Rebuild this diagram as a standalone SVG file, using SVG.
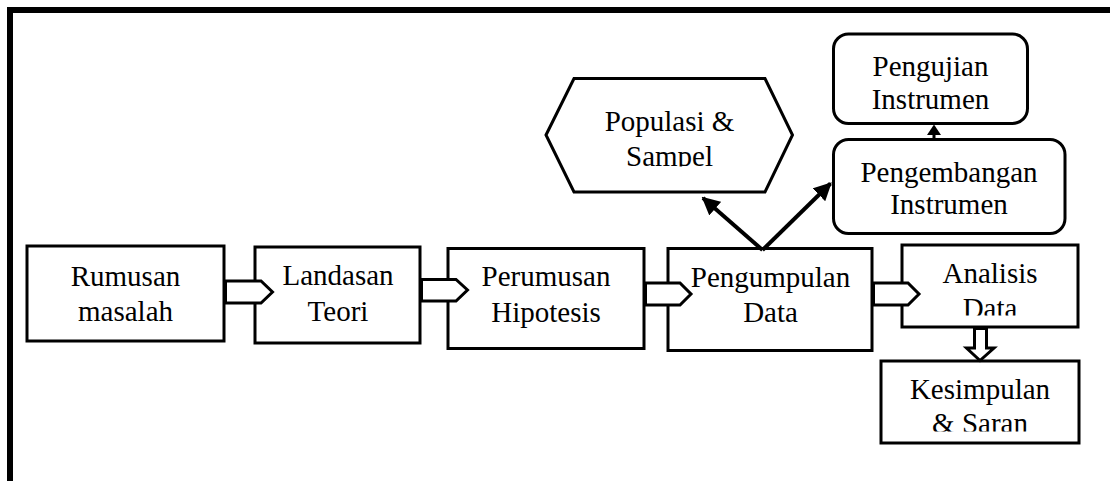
<svg xmlns="http://www.w3.org/2000/svg" width="1110" height="481" viewBox="0 0 1110 481">
<style>
.box{fill:#fff;stroke:#000;stroke-width:3}
.blk{fill:#fff;stroke:#000;stroke-width:3;stroke-linejoin:miter}
.t{font-family:"Liberation Serif","Times New Roman",serif;font-size:29px;fill:#000;text-anchor:middle}
.ln{stroke:#000;stroke-width:4;fill:none}
</style>
<defs>
<marker id="ah" viewBox="0 0 10 10" refX="9" refY="5" markerWidth="4.5" markerHeight="4.5" orient="auto" markerUnits="strokeWidth">
<path d="M0,0 L10,5 L0,10 z" fill="#000"/>
</marker>
<clipPath id="cPop"><rect x="540" y="70" width="260" height="96.5"/></clipPath>
<clipPath id="cUji"><rect x="830" y="30" width="200" height="79.5"/></clipPath>
<clipPath id="cAna"><rect x="900" y="240" width="180" height="75.5"/></clipPath>
<clipPath id="cKes"><rect x="878" y="358" width="204" height="73.5"/></clipPath>
</defs>
<g id="frame">
<path d="M10,481 L10,10 L1110,10" fill="none" stroke="#000" stroke-width="6"/>
</g>
<g id="rumusan">
<rect class="box" x="27" y="246" width="197" height="95"/>
<text class="t" x="125.5" y="286">Rumusan</text>
<text class="t" x="125.5" y="321">masalah</text>
</g>
<g id="landasan">
<rect class="box" x="255" y="247" width="165" height="96"/>
<text class="t" x="338" y="285">Landasan</text>
<text class="t" x="338" y="321">Teori</text>
</g>
<g id="perumusan">
<rect class="box" x="448" y="248.5" width="196" height="100"/>
<text class="t" x="546" y="286">Perumusan</text>
<text class="t" x="546" y="321.5">Hipotesis</text>
</g>
<g id="pengumpulan">
<rect class="box" x="668" y="248.5" width="204" height="102"/>
<text class="t" x="770.5" y="286.5">Pengumpulan</text>
<text class="t" x="770.5" y="321.5">Data</text>
</g>
<g id="analisis">
<rect class="box" x="902" y="245" width="176" height="82"/>
<g clip-path="url(#cAna)">
<text class="t" x="990" y="282.5">Analisis</text>
<text class="t" x="990" y="317.5">Data</text>
</g>
</g>
<g id="kesimpulan">
<rect class="box" x="881" y="361" width="198" height="82"/>
<g clip-path="url(#cKes)">
<text class="t" x="980" y="398.5">Kesimpulan</text>
<text class="t" x="980" y="433">&amp; Saran</text>
</g>
</g>
<g id="populasi">
<polygon class="box" points="546,135 574,78.5 765,78.5 792.5,135 765,192 574,192"/>
<g clip-path="url(#cPop)">
<text class="t" x="669.5" y="130.5">Populasi &amp;</text>
<text class="t" x="669.5" y="165.5">Sampel</text>
</g>
</g>
<g id="pengujian">
<rect class="box" x="833.5" y="34" width="194" height="89.5" rx="15" ry="15"/>
<g clip-path="url(#cUji)">
<text class="t" x="930.5" y="76">Pengujian</text>
<text class="t" x="930.5" y="109">Instrumen</text>
</g>
</g>
<g id="pengembangan">
<rect class="box" x="833.5" y="139.5" width="231.5" height="94" rx="15" ry="15"/>
<text class="t" x="949" y="182">Pengembangan</text>
<text class="t" x="949" y="214">Instrumen</text>
</g>
<g id="connectors">
<polygon class="blk" points="225.5,281 261,281 272.5,292 261,303 225.5,303"/>
<polygon class="blk" points="421.5,279.5 456,279.5 467.5,290 456,301 421.5,301"/>
<polygon class="blk" points="645.5,283 680,283 691,294 680,305 645.5,305"/>
<polygon class="blk" points="873.5,283 908,283 919,294 908,305 873.5,305"/>
<polygon class="blk" points="974.5,328.5 986.5,328.5 986.5,348 994,348 980,360.5 966.5,348 974.5,348"/>
<line class="ln" x1="762.5" y1="250" x2="703" y2="198" marker-end="url(#ah)"/>
<line class="ln" x1="762.5" y1="250" x2="830.5" y2="183.5" marker-end="url(#ah)"/>
<line x1="934" y1="139" x2="934" y2="132" stroke="#000" stroke-width="3"/>
<polygon points="934,124.5 941,135 927,135" fill="#000"/>
</g>
</svg>
